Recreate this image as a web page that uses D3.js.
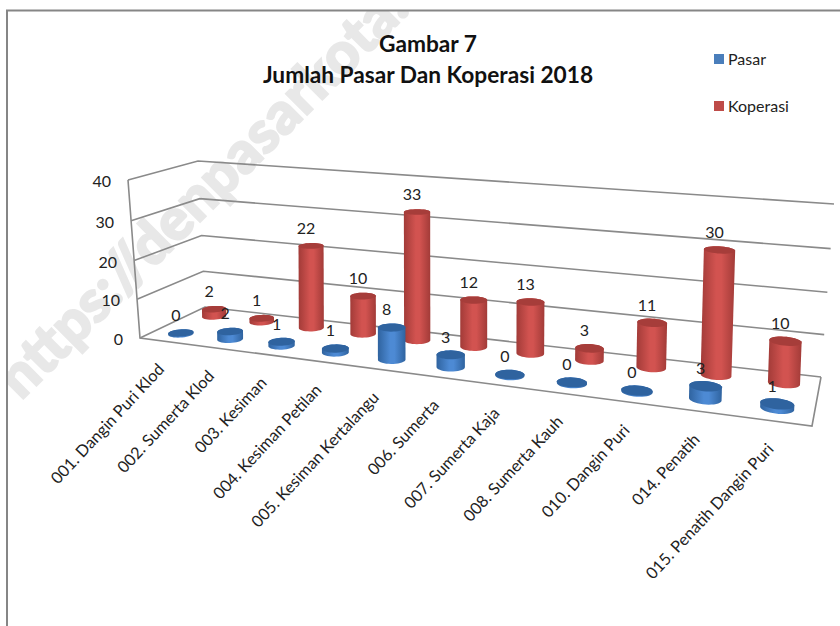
<!DOCTYPE html>
<html><head><meta charset="utf-8">
<style>html,body{margin:0;padding:0;background:#fff}svg{display:block}text{font-family:Lato,Carlito,"Open Sans",sans-serif}</style>
<script src="https://cdn.jsdelivr.net/npm/d3@7/dist/d3.min.js"></script>
</head><body><svg id="c" width="840" height="626"></svg>
<script>
const categories=["001. Dangin Puri Klod","002. Sumerta Klod","003. Kesiman","004. Kesiman Petilan","005. Kesiman Kertalangu","006. Sumerta","007. Sumerta Kaja","008. Sumerta Kauh","010. Dangin Puri","014. Penatih","015. Penatih Dangin Puri"];
const pasar=[0,2,1,1,8,3,0,0,0,3,1];
const koperasi=[2,1,22,10,33,12,13,3,11,30,10];
const yTicks=[0,10,20,30,40];
const titleLines=["Gambar 7","Jumlah Pasar Dan Koperasi 2018"];
const seriesNames=["Pasar","Koperasi"];
const watermark="https://denpasarkota.bps.go.id";

function quad(p){
  const [[x0,y0],[x1,y1],[x2,y2],[x3,y3]]=p;
  const dx1=x1-x2,dx2=x3-x2,sx=x0-x1+x2-x3,dy1=y1-y2,dy2=y3-y2,sy=y0-y1+y2-y3;
  const den=dx1*dy2-dx2*dy1,g=(sx*dy2-dx2*sy)/den,h=(dx1*sy-sx*dy1)/den;
  const a=x1-x0+g*x1,b=x3-x0+h*x3,d=y1-y0+g*y1,e=y3-y0+h*y3;
  return (u,v)=>{const w=g*u+h*v+1;return [(a*u+b*v+x0)/w,(d*u+e*v+y0)/w];};
}
const floor=quad([[140,338],[812,426],[821,377],[205,307]]);
const ceil=quad([[128,180],[827,239],[834,204],[198,161]]);
const lift=d3.scaleLinear().domain(yTicks).range([0,.245,.49,.742,1]);
function P(u,v,val){const a=floor(u,v),b=ceil(u,v),t=lift(val);return [a[0]+(b[0]-a[0])*t,a[1]+(b[1]-a[1])*t];}
const lean=d3.scaleLinear().domain([0,.55,.95]).range([-1,0,6]);
function Pbar(u,v,val){const a=floor(u,v),p=P(u,v,val*.98);return [a[0]+lean(u)*lift(val),p[1]];}
const xBand=d3.scaleBand().domain(categories).range([0,1]);
const warp=d3.scaleLinear().domain([0,.5,1]).range([0,.511,1]);
const uc=c=>warp(xBand(c)+xBand.bandwidth()/2);
const depth={Pasar:.245,Koperasi:.77};
const du=.0205,dv=.105;

const svg=d3.select("#c");
const defs=svg.append("defs");
function grad(id,edge,mid){
  const g=defs.append("linearGradient").attr("id",id);
  [[0,edge],[.45,mid],[.6,mid],[1,edge]].forEach(s=>g.append("stop").attr("offset",s[0]).attr("stop-color",s[1]));
}
grad("gb","#2f639f","#4d8ad4");grad("gr","#a23b38","#d25350");
defs.append("clipPath").attr("id","frame").append("rect").attr("x",7).attr("y",11).attr("width",833).attr("height",615);

svg.append("g").attr("clip-path","url(#frame)").append("text").text(watermark)
  .attr("transform","translate(21,401) rotate(-45)")
  .attr("font-size",58).attr("font-weight",900).attr("fill","#e8e8e8").attr("stroke","#e8e8e8").attr("stroke-width",2);

svg.append("path").attr("d","M7,626V10.5H840").attr("fill","none").attr("stroke","#868686").attr("stroke-width",2);

const line=d3.line();
const gl=svg.append("g").attr("fill","none").attr("stroke","#8a8a8a").attr("stroke-width",1.6);
yTicks.forEach(t=>gl.append("path").attr("d",line([P(0,0,t),P(0,1,t),P(1,1,t)])));
gl.append("path").attr("d",line([P(0,0,40),P(0,0,0),P(1,0,0),P(1,1,0)]));

svg.append("g").selectAll("text").data(yTicks).join("text")
  .attr("x",t=>P(0,0,t)[0]-17).attr("y",t=>P(0,0,t)[1]+7)
  .attr("text-anchor","end").attr("font-size",16).attr("fill","#222").text(d=>d);

function cyl(g,c,val,name,fillId,topCol){
  const u=uc(c),v=depth[name],th=d3.range(0,360,10).map(a=>a*Math.PI/180);
  const ring=x=>th.map(a=>Pbar(u+du*Math.cos(a),v+dv*Math.sin(a),x));
  const top=ring(val),base=ring(0).map(p=>[p[0],p[1]+(val===0?1:0)]);
  g.append("path").attr("d",line(d3.polygonHull(top.concat(base)))+"Z").attr("fill",`url(#${fillId})`);
  g.append("path").attr("d",line(top)+"Z").attr("fill",topCol);
}
const marks=svg.append("g");
categories.forEach((c,i)=>cyl(marks,c,koperasi[i],"Koperasi","gr","#a63d3a"));
categories.forEach((c,i)=>cyl(marks,c,pasar[i],"Pasar","gb","#2f639f"));

const labels=svg.append("g").attr("font-size",16).attr("fill","#222").attr("text-anchor","middle");
[[pasar,"Pasar"],[koperasi,"Koperasi"]].forEach(([vals,name])=>{
  categories.forEach((c,i)=>{
    const p=Pbar(uc(c),depth[name],vals[i]);
    labels.append("text").attr("x",p[0]-5).attr("y",p[1]-12).text(vals[i]);
  });
});

svg.append("g").selectAll("text").data(categories).join("text")
  .attr("transform",c=>{const p=P(uc(c),0,0);return `translate(${p[0]+1},${p[1]+29}) rotate(-47)`;})
  .attr("text-anchor","end").attr("font-size",16.3).attr("fill","#222").text(d=>d);

const tg=svg.append("g").attr("text-anchor","middle").attr("font-weight",700).attr("font-size",22.7).attr("fill","#111");
titleLines.forEach((t,i)=>tg.append("text").attr("x",428).attr("y",52+i*31).text(t));

const swatchColor=d3.scaleOrdinal().domain(seriesNames).range(["#4a7ebb","#be4b48"]);
const legendY=d3.scalePoint().domain(seriesNames).range([59,106]);
const lg=svg.append("g").selectAll("g").data(seriesNames).join("g").attr("transform",d=>`translate(714,${legendY(d)})`);
lg.append("rect").attr("y",-5).attr("width",10).attr("height",10).attr("fill",swatchColor);
lg.append("text").attr("x",14).attr("y",6).attr("font-size",16).attr("fill","#222").text(d=>d);
</script></body></html>
